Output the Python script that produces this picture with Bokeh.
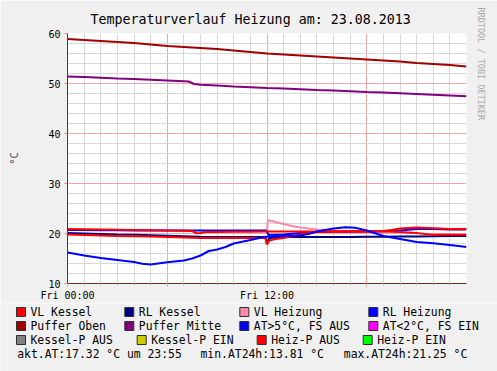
from bokeh.plotting import figure
from bokeh.models import Range1d, FixedTicker, Title
from bokeh.layouts import column
from bokeh.embed import file_html
from bokeh.resources import INLINE
from bokeh.core.properties import value

FONT = "DejaVu Sans Mono"

# ---------------- data (hours since Fri 00:00, °C) ----------------
hours = list(range(0, 25))

puffer_oben = [58.9, 58.7, 58.5, 58.3, 58.1, 57.8, 57.5, 57.3, 57.1, 56.9, 56.6, 56.3,
               56.0, 55.8, 55.6, 55.4, 55.2, 55.0, 54.8, 54.6, 54.4, 54.1, 53.9, 53.7, 53.4]

puffer_mitte_h = [0, 1, 2, 3, 4, 5, 6, 7, 7.3, 7.6, 8, 9, 10, 11, 12, 13, 14, 15, 16, 17,
                  18, 19, 20, 21, 22, 23, 24]
puffer_mitte = [51.4, 51.3, 51.15, 51.0, 50.9, 50.75, 50.6, 50.45, 50.4, 49.9, 49.75, 49.6,
                49.4, 49.25, 49.1, 49.0, 48.85, 48.7, 48.6, 48.45, 48.3, 48.2, 48.05, 47.9,
                47.75, 47.6, 47.45]

vl_kessel_h = [0, 1, 2, 3, 4, 5, 6, 7, 7.5, 7.75, 8.0, 8.3, 9, 10, 11, 12, 13, 14, 15, 16,
               17, 18, 19, 19.5, 20, 21, 22, 23, 24]
vl_kessel = [20.9, 20.85, 20.8, 20.75, 20.7, 20.65, 20.6, 20.55, 20.5, 20.05, 20.1, 20.3,
             20.3, 20.35, 20.35, 20.4, 20.4, 20.4, 20.4, 20.4, 20.45, 20.45, 20.5, 20.7,
             21.0, 21.2, 21.05, 20.9, 20.9]

rl_kessel_h = [0, 1, 2, 3, 4, 5, 6, 7, 8, 9, 10, 11, 11.9, 12.0, 12.15, 12.5, 13, 14, 15,
               16, 17, 18, 19, 20, 21, 22, 23, 24]
rl_kessel = [20.1, 20.0, 19.9, 19.8, 19.75, 19.65, 19.55, 19.45, 19.35, 19.3, 19.3, 19.3,
             19.3, 18.0, 19.1, 19.2, 19.3, 19.3, 19.3, 19.3, 19.3, 19.35, 19.35, 19.4, 19.4,
             19.45, 19.5, 19.5]

vl_heizung_h = [12.0, 12.05, 12.5, 13, 13.5, 14, 15, 16, 17, 18, 19, 20, 21, 22, 23, 24]
vl_heizung = [20.3, 22.7, 22.3, 21.9, 21.5, 21.2, 20.8, 20.6, 20.45, 20.4, 20.45, 20.8,
              21.1, 21.0, 20.85, 20.85]

rl_heizung_h = [0, 1, 2, 3, 4, 5, 6, 7, 7.7, 8, 9, 10, 11, 11.95, 12.1, 13, 14, 15, 16,
                17, 18, 19, 20, 21, 22, 23, 24]
rl_heizung = [20.7, 20.7, 20.65, 20.65, 20.6, 20.6, 20.6, 20.6, 20.6, 20.6, 20.6, 20.6,
              20.6, 20.6, 19.7, 19.8, 20.1, 20.3, 20.35, 20.35, 20.4, 20.45, 20.6, 20.9,
              20.9, 20.8, 20.8]

heiz_p_aus_h = [0, 1, 2, 3, 4, 5, 6, 7, 8, 9, 10, 11, 11.9, 12.0, 12.15, 12.5, 13, 14,
                14.8, 16, 17, 18, 19, 20, 21, 21.8, 22, 23, 24]
heiz_p_aus = [19.8, 19.7, 19.6, 19.5, 19.45, 19.4, 19.3, 19.2, 19.1, 19.1, 19.1, 19.1,
              19.1, 17.8, 18.6, 18.9, 19.1, 19.8, 20.3, 20.4, 20.4, 20.4, 20.4, 20.3, 20.1,
              19.8, 19.75, 19.75, 19.75]

at_h = [0, 1, 2, 3, 4, 4.5, 5, 6, 7, 7.5, 8, 8.5, 9, 9.5, 10, 11, 11.8, 12.5, 13, 14,
        14.5, 15, 15.5, 16, 16.7, 17.3, 18, 19, 20, 21, 22, 23, 24]
at = [16.2, 15.6, 15.1, 14.7, 14.3, 13.95, 13.81, 14.25, 14.6, 15.0, 15.6, 16.5, 16.8,
      17.3, 18.0, 18.7, 19.3, 19.45, 19.5, 19.6, 19.9, 20.4, 20.7, 21.0, 21.25, 21.15,
      20.6, 19.5, 18.9, 18.3, 18.05, 17.7, 17.32]

x_major = [0, 6, 12, 18]
x_minor = list(range(0, 24))
x_labels = {0: "Fri 00:00", 6: "", 12: "Fri 12:00", 18: ""}
y_major = [10, 20, 30, 40, 50, 60]
y_minor = list(range(10, 61, 2))

legend_rows = [
    ["VL Kessel", "RL Kessel", "VL Heizung", "RL Heizung"],
    ["Puffer Oben", "Puffer Mitte", "AT>5°C, FS AUS", "AT<2°C, FS EIN"],
    ["Kessel-P AUS", "Kessel-P EIN", "Heiz-P AUS", "Heiz-P EIN"],
]
legend_colors = [
    ["#FF0000", "#000080", "#FF88AA", "#0000FF"],
    ["#A00000", "#800080", "#0000FF", "#FF00FF"],
    ["#808080", "#CCCC00", "#FF0000", "#00FF00"],
]
stat_texts = ["akt.AT:17.32 °C um 23:55", "min.AT24h:13.81 °C", "max.AT24h:21.25 °C"]

# ---------------- styles / layout (pixels) ----------------
W = 497
TOP_H, LEG_H = 303, 68
FL, FR, FT, FB = 67, 29, 33, 20          # borders around the plot frame
BG = "#F0F0F0"
GRID = "#D8D8D8"
MGRID = "#F2A8A8"
AXIS = "#7A2424"
LW = 2
LEG_FS = "11.4px"

p = figure(width=W, height=TOP_H, output_backend="svg", toolbar_location=None,
           x_range=Range1d(0, 24), y_range=Range1d(10, 60),
           min_border_left=FL, min_border_right=FR, min_border_top=FT, min_border_bottom=FB,
           background_fill_color="white", border_fill_color=BG, outline_line_color=None)
p.frame_align = False

p.title.text = "Temperaturverlauf Heizung am: 23.08.2013"
p.title.text_font = FONT
p.title.text_font_size = "13.3px"
p.title.text_font_style = "normal"
p.title.text_color = "#000000"
p.title.align = "left"
p.title.offset = 23
p.title.standoff = 14

side = Title(text="RRDTOOL / TOBI OETIKER", align="left", offset=-26, standoff=19,
             text_font=FONT, text_font_size="8.5px", text_font_style="normal",
             text_color="#A8A8A8")
p.add_layout(side, "right")

xt = FixedTicker(ticks=x_major, minor_ticks=x_minor)
yt = FixedTicker(ticks=y_major, minor_ticks=y_minor)
p.xaxis.ticker = xt
p.yaxis.ticker = yt
p.xgrid.ticker = xt
p.ygrid.ticker = yt
p.xaxis.major_label_overrides = x_labels

for g in (p.xgrid[0], p.ygrid[0]):
    g.grid_line_color = MGRID
    g.minor_grid_line_color = GRID

for ax in (p.xaxis[0], p.yaxis[0]):
    ax.axis_line_color = AXIS
    ax.major_tick_line_color = "#E08888"
    ax.minor_tick_line_color = "#C0C0C0"
    ax.major_tick_in = 0
    ax.major_tick_out = 3
    ax.minor_tick_in = 0
    ax.major_label_text_font = FONT
    ax.major_label_text_font_size = "10px"
    ax.major_label_text_color = "#000000"
p.xaxis.minor_tick_out = 2
p.yaxis.minor_tick_out = 0
p.xaxis.major_label_standoff = 3
p.yaxis.major_label_standoff = 4
p.yaxis.axis_label = "°C"
p.yaxis.axis_label_text_font = FONT
p.yaxis.axis_label_text_font_size = "10.5px"
p.yaxis.axis_label_text_font_style = "normal"
p.yaxis.axis_label_standoff = 25

# data lines
p.line(vl_heizung_h, vl_heizung, line_color="#FF88AA", line_width=LW)
p.line(rl_heizung_h, rl_heizung, line_color="#0000FF", line_width=LW)
p.line(rl_kessel_h, rl_kessel, line_color="#000080", line_width=LW)
p.line(heiz_p_aus_h, heiz_p_aus, line_color="#FF0000", line_width=LW)
p.line(vl_kessel_h, vl_kessel, line_color="#FF0000", line_width=LW)
p.line(at_h, at, line_color="#0000FF", line_width=LW)
p.line(hours, puffer_oben, line_color="#A00000", line_width=LW)
p.line(puffer_mitte_h, puffer_mitte, line_color="#800080", line_width=LW)

# ---------------- legend panel (pixel coordinates, y downwards) ----------------
leg = figure(width=W, height=LEG_H, output_backend="svg", toolbar_location=None,
             x_range=Range1d(0, W), y_range=Range1d(LEG_H, 0),
             x_axis_location=None, y_axis_location=None, min_border=0,
             min_border_left=0, min_border_right=0, min_border_top=0, min_border_bottom=0,
             background_fill_color=BG, border_fill_color=BG, outline_line_color=None)
leg.frame_align = False
leg.grid.visible = False

row_y = [8.5, 22.5, 36.5]
col_x = [[16, 124.3, 239.3, 368.3], [16, 124.3, 239.3, 368.3], [16, 136.7, 256.7, 362.7]]
bx, by, bc, tx, ty, tt = [], [], [], [], [], []
for r, labels in enumerate(legend_rows):
    for c, lab in enumerate(labels):
        bx.append(col_x[r][c] + 4.5)
        by.append(row_y[r])
        bc.append(legend_colors[r][c])
        tx.append(col_x[r][c] + 14)
        ty.append(row_y[r])
        tt.append(lab)
leg.rect(x=bx, y=by, width=9, height=9, fill_color=bc, line_color="#303030", line_width=1)
leg.text(x=tx, y=ty, text=tt, text_font=value(FONT), text_font_size=LEG_FS,
         text_baseline="middle", text_color="#000000")
leg.text(x=[16.7, 200, 343.3], y=[50] * 3, text=stat_texts, text_font=value(FONT),
         text_font_size=LEG_FS, text_baseline="middle", text_color="#000000")

layout = column(p, leg, spacing=0)
open("out.html", "w").write(file_html(layout, INLINE))
